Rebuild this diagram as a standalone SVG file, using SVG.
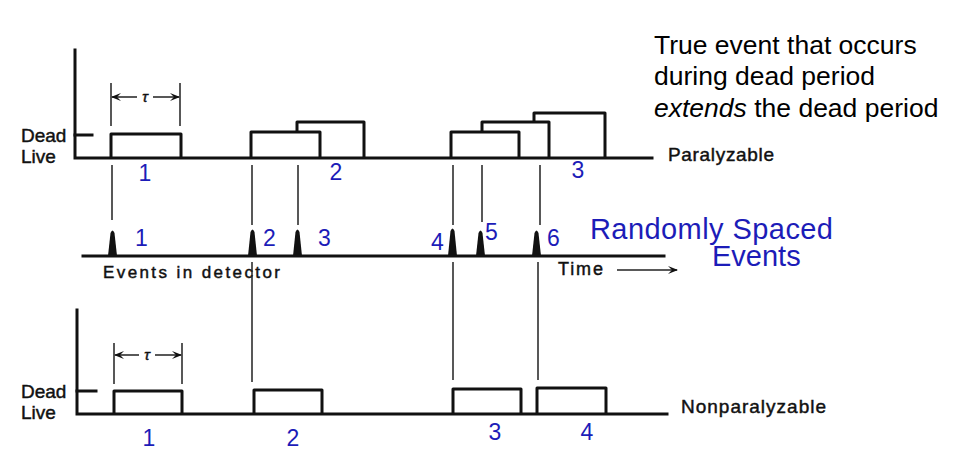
<svg xmlns="http://www.w3.org/2000/svg" width="961" height="461" viewBox="0 0 961 461">
<defs>
<style>
.ax{stroke:#111;stroke-width:3;fill:none;stroke-linecap:square}
.box{stroke:#111;stroke-width:3;fill:none;stroke-linejoin:round}
.thin{stroke:#222;stroke-width:1.5;fill:none}
.lab{font-family:"Liberation Sans",Arial,sans-serif;fill:#111;stroke:#111;stroke-width:0.45}
.blue{font-family:"Liberation Sans",Arial,sans-serif;fill:#1c1cb8}
.note{font-family:"Liberation Sans",Arial,sans-serif;fill:#000;font-size:26.5px}
.spike{fill:#111}
</style>
<marker id="ah" viewBox="0 0 10 10" refX="9" refY="5" markerWidth="10" markerHeight="10" orient="auto-start-reverse" markerUnits="userSpaceOnUse">
<path d="M0,1 L10,5 L0,9 L4,5 Z" fill="#111"/>
</marker>
</defs>
<rect width="961" height="461" fill="#fff"/>

<g id="note">
<text class="note" x="654" y="54">True event that occurs</text>
<text class="note" x="654" y="85">during dead period</text>
<text class="note" x="654" y="117"><tspan font-style="italic">extends</tspan> the dead period</text>
</g>

<g id="paralyzable">
<path class="ax" d="M75,50 V158 H652"/>
<path class="ax" d="M75,135 H92" stroke-width="2"/>
<text class="lab" x="21" y="142" font-size="19">Dead</text>
<text class="lab" x="21" y="163" font-size="19">Live</text>
<path class="thin" d="M111,83 V126 M180,83 V126"/>
<path class="thin" d="M112,97 H137 M153,97 H179" stroke-width="2" marker-start="url(#ah)" marker-end="url(#ah)"/>
<text class="lab" x="145" y="102" font-size="15" font-style="italic" text-anchor="middle">τ</text>
<path class="box" d="M111,158 V134 H181 V158"/>
<path class="box" d="M251,158 V132 H320 V158"/>
<path class="box" d="M297,132 V122 H364 V158"/>
<path class="box" d="M451,158 V132 H519 V158"/>
<path class="box" d="M482,132 V122 H549 V158"/>
<path class="box" d="M534,122 V113 H605 V158"/>
<text class="lab" x="668" y="161" font-size="19" textLength="106">Paralyzable</text>
<text class="blue" x="145" y="181" font-size="23" text-anchor="middle">1</text>
<text class="blue" x="336" y="180" font-size="23" text-anchor="middle">2</text>
<text class="blue" x="578" y="178" font-size="23" text-anchor="middle">3</text>
</g>

<g id="events">
<path class="ax" d="M83,256 H664"/>
<path class="spike" d="M108,256 L110.5,233 Q112.5,228 114.5,233 L117,256 Z"/>
<path class="spike" d="M248,256 L250.5,232 Q252.5,227 254.5,232 L257,256 Z"/>
<path class="spike" d="M293,256 L295.5,232 Q297.5,227 299.5,232 L302,256 Z"/>
<path class="spike" d="M448,256 L450.5,231 Q452.5,226 454.5,231 L457,256 Z"/>
<path class="spike" d="M476,256 L478.5,233 Q480.5,228 482.5,233 L485,256 Z"/>
<path class="spike" d="M532,256 L534.5,233 Q536.5,228 538.5,233 L541,256 Z"/>
<text class="blue" x="135" y="246" font-size="23">1</text>
<text class="blue" x="263" y="246" font-size="23">2</text>
<text class="blue" x="318" y="246" font-size="23">3</text>
<text class="blue" x="431" y="250" font-size="23">4</text>
<text class="blue" x="485" y="240" font-size="23">5</text>
<text class="blue" x="547" y="246" font-size="23">6</text>
<text class="blue" x="590" y="239" font-size="29" textLength="243">Randomly Spaced</text>
<text class="blue" x="712" y="266" font-size="29">Events</text>
<text class="lab" x="103" y="278" font-size="17" textLength="177">Events in detector</text>
<text class="lab" x="558" y="275" font-size="18" textLength="45">Time</text>
<path class="thin" d="M617,270 H677" stroke-width="2" marker-end="url(#ah)"/>
</g>

<g id="connectors">
<path class="thin" d="M112,165 V220 M252,165 V225 M298,165 V225 M453,165 V225 M482,165 V222 M540,165 V225"/>
<path class="thin" d="M252,262 V382 M453,262 V380 M538,262 V380"/>
</g>

<g id="nonparalyzable">
<path class="ax" d="M77,310 V414 H667"/>
<path class="ax" d="M77,391 H96" stroke-width="2"/>
<text class="lab" x="21" y="398" font-size="19">Dead</text>
<text class="lab" x="21" y="419" font-size="19">Live</text>
<path class="thin" d="M114,343 V384 M182,343 V384"/>
<path class="thin" d="M115,355 H139 M155,355 H181" stroke-width="2" marker-start="url(#ah)" marker-end="url(#ah)"/>
<text class="lab" x="147" y="360" font-size="15" font-style="italic" text-anchor="middle">τ</text>
<path class="box" d="M114,414 V391 H182 V414"/>
<path class="box" d="M254,414 V390 H322 V414"/>
<path class="box" d="M453,414 V389 H521 V414"/>
<path class="box" d="M537,414 V388 H606 V414"/>
<text class="lab" x="681" y="413" font-size="19" textLength="145">Nonparalyzable</text>
<text class="blue" x="149" y="446" font-size="23" text-anchor="middle">1</text>
<text class="blue" x="293" y="446" font-size="23" text-anchor="middle">2</text>
<text class="blue" x="495" y="440" font-size="23" text-anchor="middle">3</text>
<text class="blue" x="587" y="440" font-size="23" text-anchor="middle">4</text>
</g>
</svg>
